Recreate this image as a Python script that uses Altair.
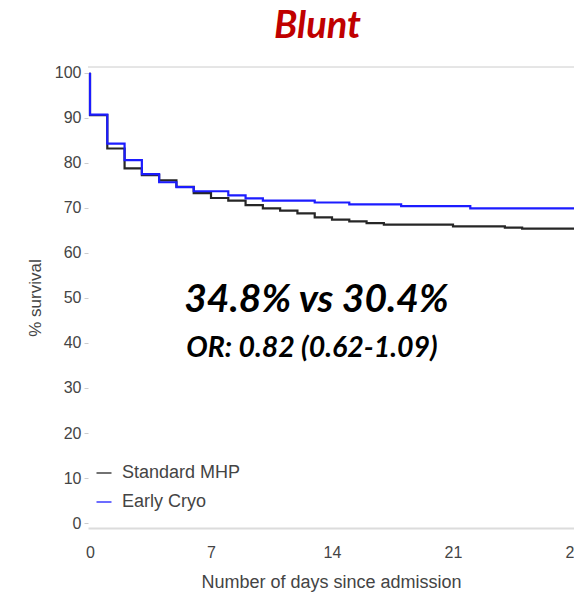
import altair as alt
import pandas as pd

# ---- data ----
series_names = ["Standard MHP", "Early Cryo"]
series_colors = ["#262626", "#1c1cff"]

days_mhp = [0, 0, 1, 2, 3, 4, 5, 6, 7, 8, 9, 10, 11, 12, 13, 14, 15, 16, 17, 21, 24, 25, 28.5]
surv_mhp = [100, 90.6, 83.2, 78.8, 77.3, 76.1, 74.7, 73.3, 72.2, 71.6, 70.6, 69.9, 69.4,
            68.8, 67.9, 67.4, 67.0, 66.6, 66.3, 65.9, 65.6, 65.4, 65.4]

days_cryo = [0, 0, 1, 2, 3, 4, 5, 6, 8, 9, 10, 13, 15, 18, 22, 28.5]
surv_cryo = [100, 90.7, 84.3, 80.6, 77.5, 75.7, 74.6, 73.7, 72.8, 72.1, 71.6, 71.2,
             70.8, 70.4, 69.9, 69.9]

x_ticks = [0, 7, 14, 21, 28]
y_ticks = [0, 10, 20, 30, 40, 50, 60, 70, 80, 90, 100]

title_text = "Blunt"
headline = "34.8% vs 30.4%"
odds_text = "OR: 0.82 (0.62-1.09)"

df_mhp = pd.DataFrame({"day": days_mhp, "surv": surv_mhp,
                       "group": series_names[0], "idx": range(len(days_mhp))})
df_cryo = pd.DataFrame({"day": days_cryo, "surv": surv_cryo,
                        "group": series_names[1], "idx": range(len(days_cryo))})

W, H = 486, 461
x_scale = alt.Scale(domain=[-0.116, 28.0], nice=False, zero=False)
y_scale = alt.Scale(domain=[-1.1, 101.3], nice=False, zero=False)
color_scale = alt.Scale(domain=series_names, range=series_colors)

AX_FONT = "Liberation Sans"

x_axis = alt.Axis(values=x_ticks, tickSize=0, ticks=False, grid=False,
                  domainColor="#dcdcdc", domainWidth=2,
                  labelFont=AX_FONT, labelFontSize=16, labelColor="#444444",
                  labelPadding=16, labelFlush=False, labelOverlap=False,
                  title="Number of days since admission", titleFont=AX_FONT,
                  titleFontSize=18, titleFontWeight="normal", titleColor="#444444",
                  titlePadding=13)
y_axis = alt.Axis(values=y_ticks, tickSize=4, tickColor="#cccccc", domain=False,
                  grid=False, labelFont=AX_FONT, labelFontSize=16,
                  labelColor="#444444", labelPadding=3,
                  title="% survival", titleFont=AX_FONT, titleFontSize=17,
                  titleFontWeight="normal", titleColor="#444444", titlePadding=10)

legend = alt.Legend(title=None, orient="none", legendX=7, legendY=397,
                    symbolType="stroke", symbolSize=225, symbolStrokeWidth=1.3,
                    labelFont=AX_FONT, labelFontSize=18, labelColor="#444444",
                    labelOffset=9, rowPadding=11, padding=0)

X = alt.X("day:Q", scale=x_scale, axis=x_axis)
Y = alt.Y("surv:Q", scale=y_scale, axis=y_axis)


def line_layer(df):
    return alt.Chart(df).mark_line(interpolate="step-after", strokeWidth=2.2,
                                   clip=True).encode(
        x=X, y=Y,
        color=alt.Color("group:N", scale=color_scale, legend=legend),
        order=alt.Order("idx:Q"),
    )


def text_layer(txt, day, surv, size, color="#000000"):
    return alt.Chart(pd.DataFrame({"t": [txt], "day": [day], "surv": [surv]})).mark_text(
        font="Lato", fontSize=size, fontWeight="bold", fontStyle="italic",
        color=color, align="center", baseline="alphabetic").encode(
        x=X, y=Y, text="t:N")


# top border of the plot frame (a rule across the full width at the top)
top_rule = alt.Chart(pd.DataFrame({"a": [0]})).mark_rule(
    color="#cccccc", strokeWidth=1).encode(y=alt.value(0))

chart = alt.layer(
    top_rule,
    line_layer(df_mhp), line_layer(df_cryo),
    text_layer(headline, 13.1, 46.9, 39),
    text_layer(odds_text, 12.84, 36.9, 28.5),
    text_layer(title_text, 13.16, 107.8, 38, "#c00000"),
).properties(
    width=W, height=H,
    autosize=alt.AutoSizeParams(type="none"),
    padding={"left": 88, "top": 67, "right": 0, "bottom": 65},
).configure(
    background="white",
    view=alt.ViewConfig(stroke="transparent", strokeWidth=0),
)

chart.save("out.html", embed_options={"renderer": "svg", "actions": False})
